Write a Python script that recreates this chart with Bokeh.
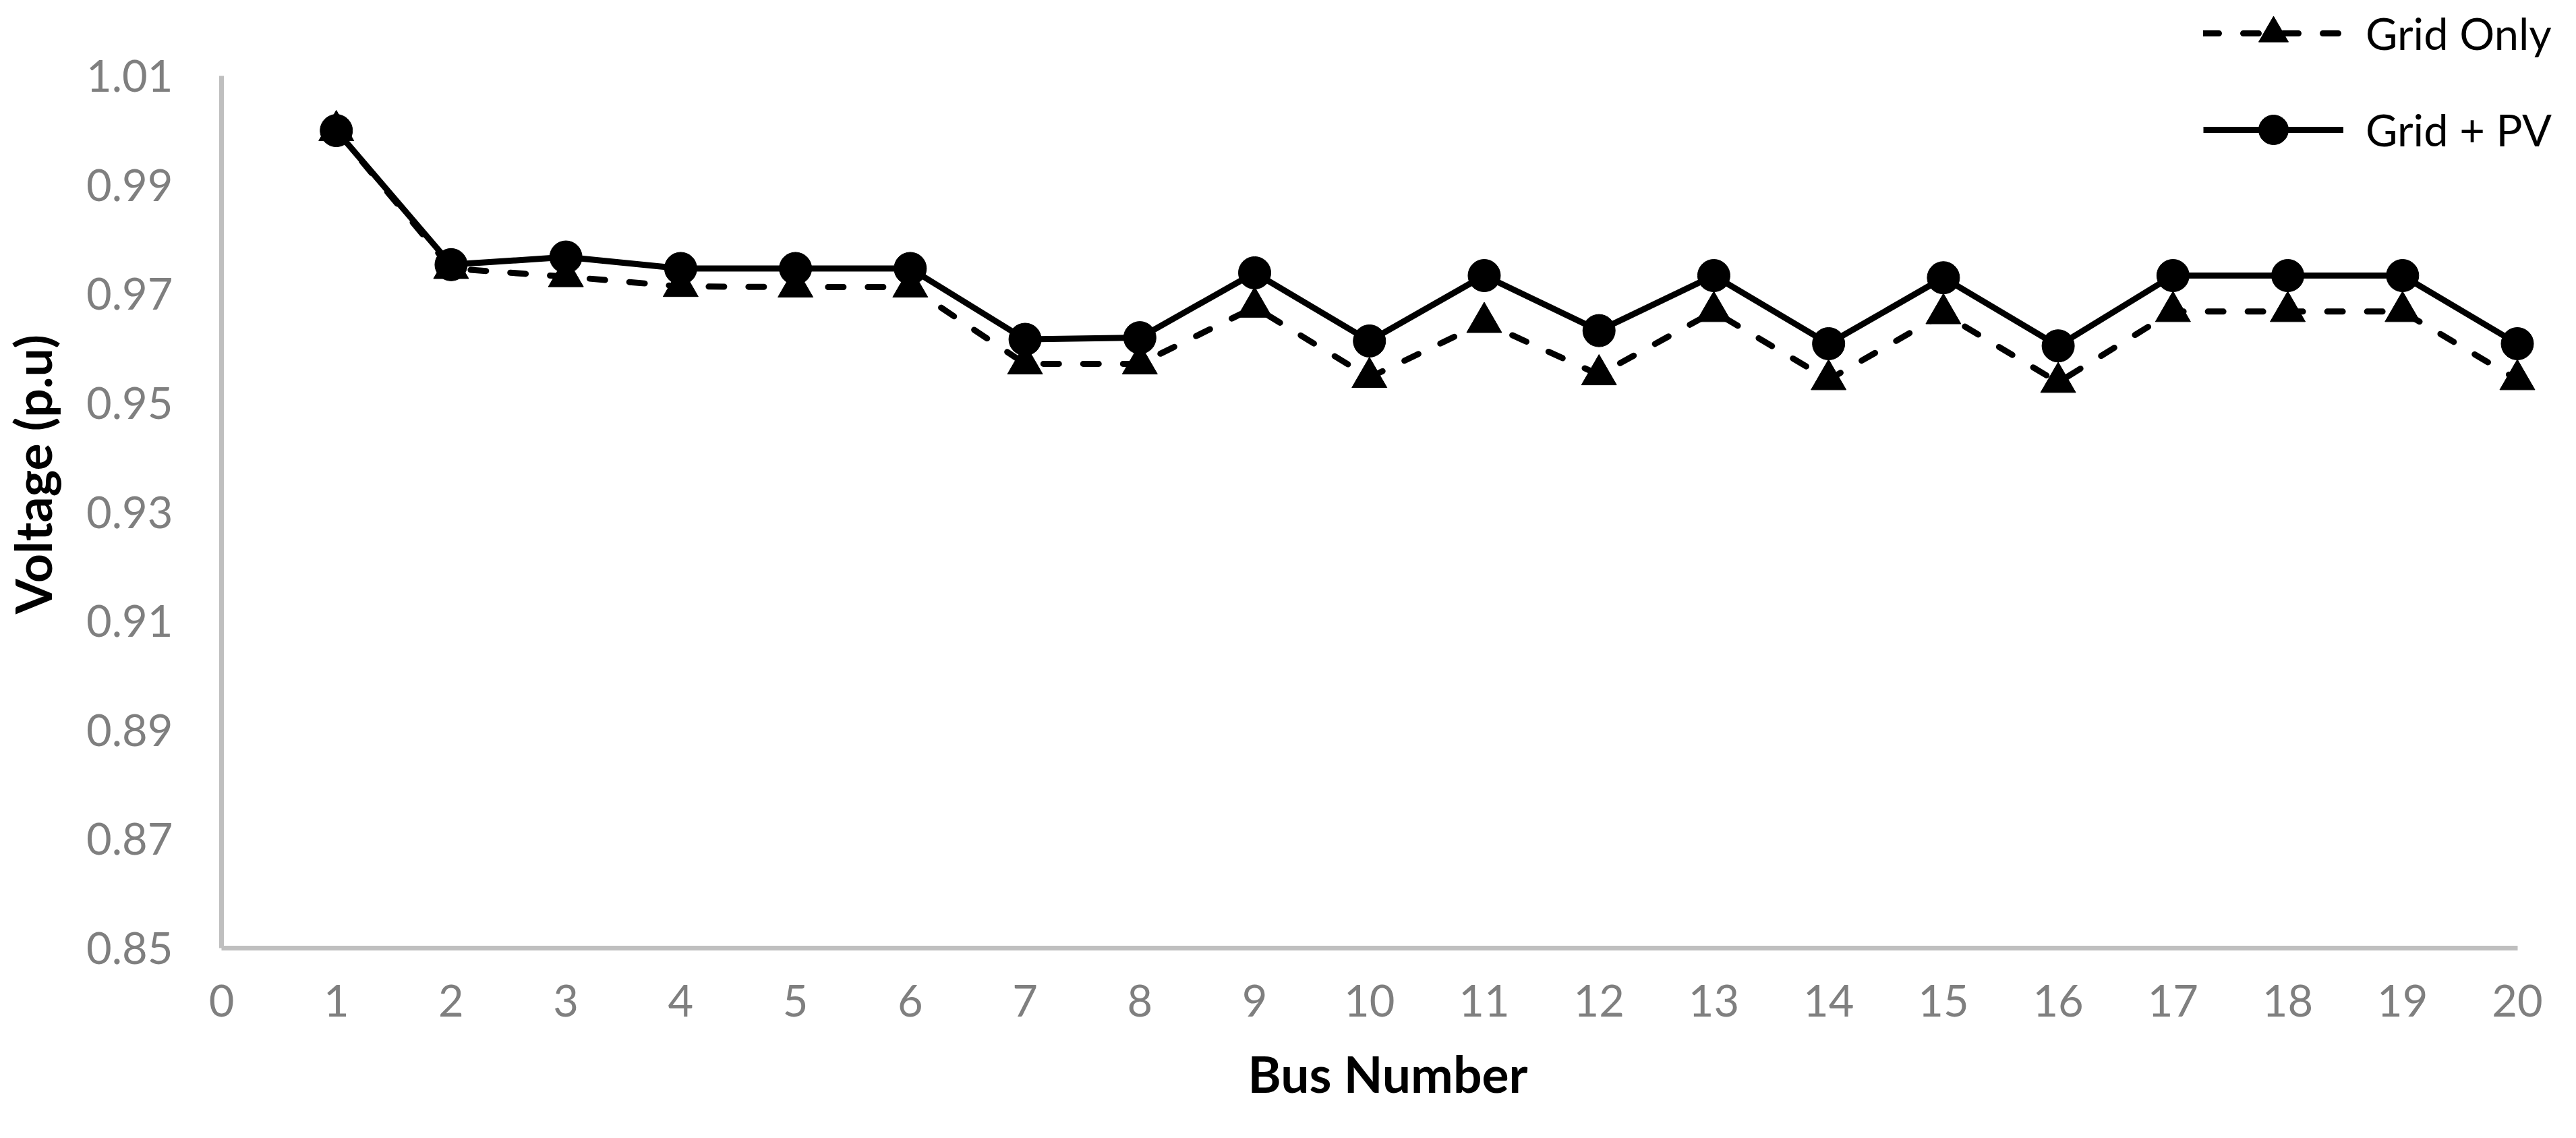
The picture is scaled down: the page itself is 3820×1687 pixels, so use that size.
from bokeh.plotting import figure
from bokeh.models import Range1d, FixedTicker, Legend, LegendItem
from bokeh.embed import file_html
from bokeh.resources import INLINE

# ---- data ----
bus = list(range(1, 21))
grid_only = [1.000, 0.9747, 0.9732, 0.9714, 0.9713, 0.9713, 0.9572, 0.9572, 0.9676, 0.9547,
             0.9648, 0.9552, 0.9668, 0.9543, 0.9664, 0.9538, 0.9668, 0.9668, 0.9668, 0.9543]
grid_pv = [1.000, 0.9754, 0.9768, 0.9747, 0.9747, 0.9747, 0.9617, 0.9620, 0.9739, 0.9614,
           0.9734, 0.9633, 0.9734, 0.9609, 0.9730, 0.9605, 0.9734, 0.9734, 0.9734, 0.9609]
series_names = ["Grid Only", "Grid + PV"]
x_ticks = list(range(0, 21))
y_ticks = [0.85, 0.87, 0.89, 0.91, 0.93, 0.95, 0.97, 0.99, 1.01]
y_tick_labels = ["0.85", "0.87", "0.89", "0.91", "0.93", "0.95", "0.97", "0.99", "1.01"]
x_title = "Bus Number"
y_title = "Voltage (p.u)"

FONT = "Lato"
GRAY = "#7f7f7f"
AXIS = "#bfbfbf"
W, H = 3804, 1671

# the plot frame is a little larger than the drawn axes so the legend (which sits
# above / right of the axes) is not clipped; the axis lines are limited by bounds
p = figure(width=W, height=H, output_backend="svg", toolbar_location=None,
           x_range=Range1d(0, 20.32), y_range=Range1d(0.85, 1.0239),
           min_border_left=325, min_border_right=17, min_border_top=0, min_border_bottom=266)
p.outline_line_color = None
p.background_fill_color = "white"
p.border_fill_color = "white"
p.xgrid.visible = False
p.ygrid.visible = False

for ax in (p.xaxis[0], p.yaxis[0]):
    ax.axis_line_color = AXIS
    ax.axis_line_width = 7
    ax.major_tick_line_color = None
    ax.minor_tick_line_color = None
    ax.major_tick_out = 0
    ax.major_tick_in = 0
    ax.minor_tick_out = 0
    ax.minor_tick_in = 0
    ax.major_label_text_font = FONT
    ax.major_label_text_font_size = "65px"
    ax.major_label_text_color = GRAY
    ax.axis_label_text_font = FONT
    ax.axis_label_text_font_size = "75px"
    ax.axis_label_text_font_style = "bold"
    ax.axis_label_text_color = "black"

p.xaxis[0].ticker = FixedTicker(ticks=x_ticks)
p.xaxis[0].bounds = (0, 20)
p.xaxis[0].major_label_standoff = 54
p.xaxis[0].axis_label = x_title
p.xaxis[0].axis_label_standoff = 36

p.yaxis[0].ticker = FixedTicker(ticks=y_ticks)
p.yaxis[0].bounds = (0.85, 1.01)
p.yaxis[0].major_label_overrides = {t: s for t, s in zip(y_ticks, y_tick_labels)}
p.yaxis[0].major_label_standoff = 72
p.yaxis[0].axis_label = y_title
p.yaxis[0].axis_label_standoff = 32

r1l = p.line(bus, grid_only, line_color="black", line_width=9, line_dash="23 36", line_cap="round")
r1m = p.scatter(bus, grid_only, marker="triangle", size=52, fill_color="black", line_color="black")
r2l = p.line(bus, grid_pv, line_color="black", line_width=9)
r2m = p.scatter(bus, grid_pv, marker="circle", size=48, fill_color="black", line_color="black")

legend = Legend(items=[LegendItem(label=series_names[0], renderers=[r1l, r1m]),
                       LegendItem(label=series_names[1], renderers=[r2l, r2m])],
                location=(2939, 1158), orientation="vertical",
                glyph_width=208, glyph_height=110, label_standoff=33, spacing=33,
                padding=0, margin=0, label_text_font=FONT, label_text_font_size="65px",
                label_text_color="black", label_text_baseline="middle",
                background_fill_alpha=0, border_line_color=None)
p.add_layout(legend, "center")

open("out.html", "w").write(file_html(p, INLINE))
